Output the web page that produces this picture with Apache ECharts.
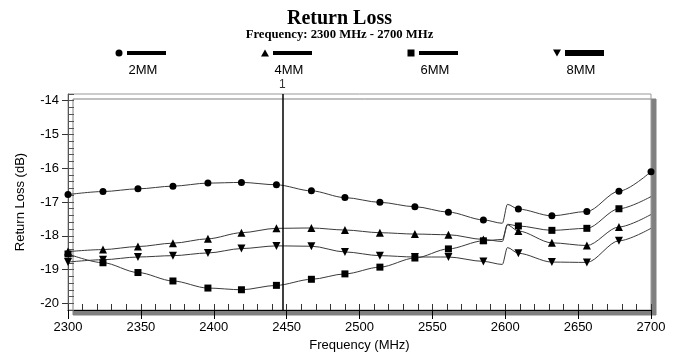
<!DOCTYPE html>
<html>
<head>
<meta charset="utf-8">
<script src="https://cdn.jsdelivr.net/npm/echarts@6/dist/echarts.min.js"></script>
<style>
  html, body { margin: 0; padding: 0; background: #fff; }
  #chart { width: 679px; height: 352px; }
</style>
</head>
<body>
<div id="chart"></div>
<script>
// Frequency samples (MHz); 2598 and 2601.5 trace the step near 2600 MHz
const freq = [2300, 2324, 2348, 2372, 2396, 2419, 2443, 2467, 2490, 2514, 2538, 2561, 2585,
              2598, 2601.5, 2609, 2632, 2656, 2678, 2700];
const stepPoints = [2598, 2601.5];

// Return loss (dB) per spacing
const rl2mm = [-16.78, -16.69, -16.61, -16.53, -16.44, -16.42, -16.49, -16.67, -16.87, -17.01, -17.14, -17.30, -17.53,
               -17.63, -17.07, -17.21, -17.41, -17.28, -16.68, -16.10];
const rl4mm = [-18.47, -18.41, -18.32, -18.22, -18.09, -17.91, -17.78, -17.77, -17.83, -17.91, -17.95, -17.97, -18.11,
               -18.17, -17.68, -17.86, -18.21, -18.29, -17.74, -17.37];
const rl6mm = [-18.54, -18.80, -19.09, -19.34, -19.55, -19.60, -19.47, -19.29, -19.13, -18.93, -18.66, -18.39, -18.15,
               -18.11, -17.66, -17.71, -17.84, -17.78, -17.20, -16.84];
const rl8mm = [-18.78, -18.71, -18.63, -18.59, -18.51, -18.38, -18.30, -18.31, -18.48, -18.59, -18.63, -18.63, -18.76,
               -18.85, -18.35, -18.52, -18.78, -18.79, -18.15, -17.78];

const seriesNames = ['2MM', '4MM', '6MM', '8MM'];
const markerFreq = 2447;

// Axis ticks
const xTicks = [2300, 2350, 2400, 2450, 2500, 2550, 2600, 2650, 2700];
const yTicks = [-20, -19, -18, -17, -16, -15, -14];
const yMin = -20.2, yMax = -13.8;

const xMinor = [];
for (let f = 2300; f <= 2700; f += 10) xMinor.push(f);
const yMinor = [];
for (let k = -101; k <= -69; k++) yMinor.push(+(k * 0.2).toFixed(1));

const FONT = 'Liberation Sans, Arial, sans-serif';
const SERIF = 'Liberation Serif, Times New Roman, serif';

const styles = [
  { symbol: 'circle',   size: 7, rotate: 0,   endMarker: true,  bar: 4 },
  { symbol: 'triangle', size: 8, rotate: 0,   endMarker: false, bar: 4 },
  { symbol: 'rect',     size: 7, rotate: 0,   endMarker: false, bar: 4 },
  { symbol: 'triangle', size: 8, rotate: 180, endMarker: false, bar: 6 }
];
const allValues = [rl2mm, rl4mm, rl6mm, rl8mm];

const series = allValues.map((vals, s) => {
  const st = styles[s];
  return {
    name: seriesNames[s],
    type: 'line',
    xAxisIndex: 0,
    yAxisIndex: 0,
    smooth: 0.3,
    smoothMonotone: 'x',
    symbol: st.symbol,
    symbolSize: st.size,
    symbolRotate: st.rotate,
    showAllSymbol: true,
    animation: false,
    lineStyle: { color: '#3a3a3a', width: 1 },
    itemStyle: { color: '#000' },
    data: freq.map((f, i) => {
      const isStep = stepPoints.indexOf(f) >= 0;
      const isEnd = i === freq.length - 1 && !st.endMarker;
      return (isStep || isEnd) ? { value: [f, vals[i]], symbol: 'none' } : { value: [f, vals[i]] };
    }),
    markLine: s === 0 ? {
      silent: true,
      symbol: 'none',
      animation: false,
      lineStyle: { color: '#000', width: 1.5, type: 'solid' },
      label: { show: true, position: 'end', formatter: '1', color: '#333', fontSize: 12, fontFamily: FONT, distance: 3 },
      data: [{ xAxis: markerFreq }]
    } : undefined
  };
});

// Legend: marker, bar, and name underneath
function legendMarker(st, cx, cy) {
  if (st.symbol === 'circle') {
    return { type: 'circle', shape: { cx: cx, cy: cy, r: 3.5 }, style: { fill: '#000' } };
  }
  if (st.symbol === 'rect') {
    return { type: 'rect', shape: { x: cx - 3.5, y: cy - 3.5, width: 7, height: 7 }, style: { fill: '#000' } };
  }
  const pts = st.rotate
    ? [[cx - 4, cy - 3.5], [cx + 4, cy - 3.5], [cx, cy + 3.5]]
    : [[cx, cy - 3.5], [cx + 4, cy + 3.5], [cx - 4, cy + 3.5]];
  return { type: 'polygon', shape: { points: pts }, style: { fill: '#000' } };
}

const legendGraphics = [];
seriesNames.forEach((name, s) => {
  const st = styles[s];
  const x0 = 119 + 146 * s;
  legendGraphics.push(legendMarker(st, x0, 53));
  legendGraphics.push({
    type: 'rect',
    shape: { x: x0 + 8, y: 53 - st.bar / 2, width: 39, height: st.bar },
    style: { fill: '#000' }
  });
  legendGraphics.push({
    type: 'text',
    x: x0 + 24, y: 70,
    style: { text: name, fill: '#000', font: '13px ' + FONT, align: 'center', verticalAlign: 'middle' }
  });
});

const plainNumber = v => String(v);

const chart = echarts.init(document.getElementById('chart'), null, { renderer: 'canvas' });
chart.setOption({
  animation: false,
  backgroundColor: '#fff',
  title: {
    text: 'Return Loss',
    subtext: 'Frequency: 2300 MHz - 2700 MHz',
    left: 'center',
    top: 4,
    itemGap: -1,
    textStyle: { fontFamily: SERIF, fontWeight: 'bold', fontSize: 20, color: '#000' },
    subtextStyle: { fontFamily: SERIF, fontWeight: 'bold', fontSize: 12.7, color: '#000' }
  },
  grid: {
    left: 68, right: 28, top: 94, bottom: 42,
    outerBoundsMode: 'none',
    containLabel: false,
    show: true,
    backgroundColor: '#fff',
    borderColor: '#9a9a9a',
    borderWidth: 1,
    shadowColor: '#808080',
    shadowOffsetX: 5,
    shadowOffsetY: 5,
    shadowBlur: 0
  },
  xAxis: [
    {
      type: 'value', min: 2300, max: 2700, interval: 50,
      name: 'Frequency (MHz)', nameLocation: 'middle', nameGap: 28,
      nameTextStyle: { color: '#000', fontSize: 13, fontFamily: FONT },
      axisLine: { lineStyle: { color: '#000', width: 1 } },
      axisTick: { show: true, inside: false, length: 9, lineStyle: { color: '#000' }, customValues: xTicks },
      axisLabel: { color: '#000', fontSize: 13, fontFamily: FONT, margin: 11, customValues: xTicks, formatter: plainNumber },
      splitLine: { show: false }
    },
    {
      type: 'value', min: 2300, max: 2700, interval: 50, position: 'bottom',
      axisLine: { show: false },
      axisTick: { show: true, inside: true, length: 6, lineStyle: { color: '#333' }, customValues: xMinor },
      axisLabel: { show: false },
      splitLine: { show: false }
    }
  ],
  yAxis: [
    {
      type: 'value', min: yMin, max: yMax,
      name: 'Return Loss (dB)', nameLocation: 'middle', nameGap: 41,
      nameTextStyle: { color: '#000', fontSize: 13, fontFamily: FONT },
      axisLine: { show: true, lineStyle: { color: '#555', width: 1 } },
      axisTick: { show: true, inside: false, length: 6, lineStyle: { color: '#333' }, customValues: yTicks },
      axisLabel: { color: '#000', fontSize: 13, fontFamily: FONT, margin: 9, customValues: yTicks, formatter: plainNumber },
      splitLine: { show: false }
    },
    {
      type: 'value', min: yMin, max: yMax, position: 'left',
      axisLine: { show: false },
      axisTick: { show: true, inside: true, length: 6, lineStyle: { color: '#555' }, customValues: yMinor },
      axisLabel: { show: false },
      splitLine: { show: false }
    }
  ],
  graphic: legendGraphics,
  series: series
});
</script>
</body>
</html>
